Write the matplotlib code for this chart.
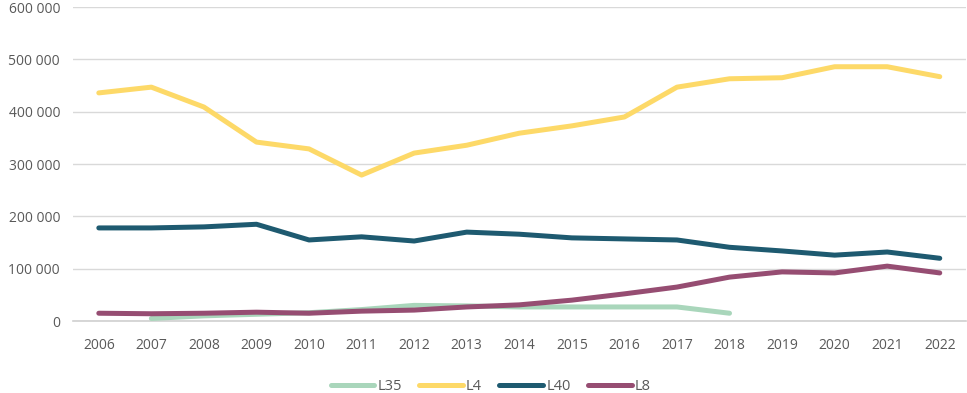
import matplotlib
matplotlib.use('Agg')
import matplotlib.pyplot as plt
from matplotlib.ticker import FuncFormatter

years = list(range(2006, 2023))

l35_years = list(range(2007, 2019))
l35 = [5000, 10000, 13000, 16000, 22000, 30000, 29000, 27000, 27000, 27000, 27000, 15000]

l4 = [436000, 447000, 409000, 342000, 329000, 279000, 321000, 336000, 359000,
      373000, 390000, 447000, 463000, 465000, 486000, 486000, 467000]

l40 = [178000, 178000, 180000, 185000, 155000, 161000, 153000, 170000, 166000,
       159000, 157000, 155000, 141000, 134000, 126000, 132000, 120000]

l8 = [15000, 14000, 15000, 17000, 15000, 19000, 21000, 27000, 31000,
      40000, 52000, 65000, 84000, 94000, 92000, 105000, 92000]

plt.rcParams['font.family'] = ['Open Sans', 'DejaVu Sans']

fig = plt.figure(figsize=(9.67, 3.93), dpi=100)
ax = fig.add_axes([0.075, 0.183, 0.924, 0.799])

lw = 3.6
ax.plot(l35_years, l35, color='#a9d6bb', lw=lw, solid_capstyle='round', label='L35', zorder=3)
ax.plot(years, l4, color='#fdd968', lw=lw, solid_capstyle='round', label='L4', zorder=3)
ax.plot(years, l40, color='#1e5a70', lw=lw, solid_capstyle='round', label='L40', zorder=3)
ax.plot(years, l8, color='#964d72', lw=lw, solid_capstyle='round', label='L8', zorder=4)

ax.set_xlim(2005.5, 2022.5)
ax.set_ylim(0, 600000)
ax.set_xticks(years)
ax.set_yticks(range(0, 600001, 100000))
ax.yaxis.set_major_formatter(FuncFormatter(lambda v, p: f'{int(v):,}'.replace(',', ' ')))
ax.grid(axis='y', color='#d9d9d9', lw=1)
ax.set_axisbelow(True)
for s in ['top', 'right', 'left']:
    ax.spines[s].set_visible(False)
ax.spines['bottom'].set_color('#d0d0d0')
ax.spines['bottom'].set_linewidth(1.2)
ax.tick_params(axis='both', length=0, labelsize=10, labelcolor='#595959')
ax.tick_params(axis='x', pad=12)
ax.tick_params(axis='y', pad=9)

ax.legend(loc='lower center', bbox_to_anchor=(0.468, -0.275), ncol=4, frameon=False,
          fontsize=10.5, labelcolor='#595959', handlelength=3.0, handletextpad=0.2,
          columnspacing=1.2)

fig.savefig('out.png', dpi=100)
